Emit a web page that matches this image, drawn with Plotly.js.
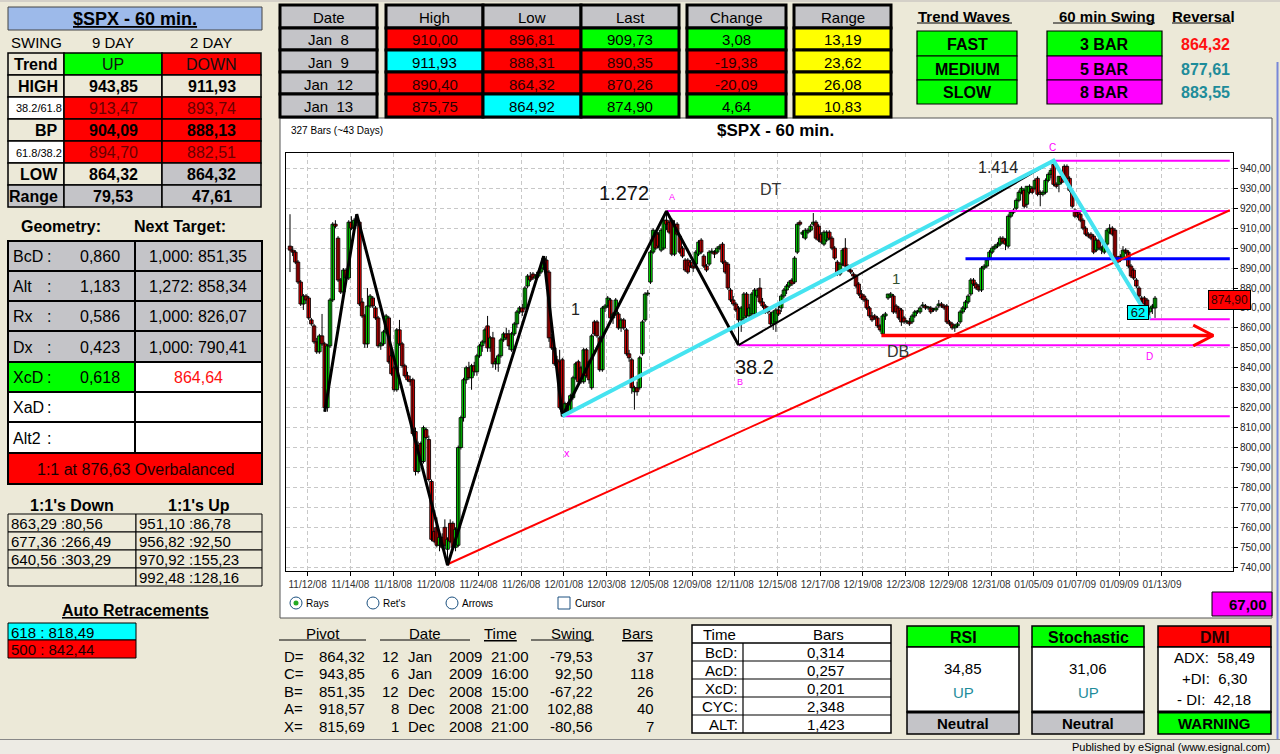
<!DOCTYPE html>
<html><head><meta charset="utf-8">
<script src="https://cdn.plot.ly/plotly-3.0.1.min.js"></script>
<style>html,body{margin:0;padding:0;background:#ECE9D8;overflow:hidden}#chart{width:1280px;height:754px}</style>
</head><body><div id="chart"></div>
<script>
// ---------------- price data (60-min bars, $SPX) ----------------
const open = [
901,899,898,893,883,872,876,875,864,861,853,848,856,852,820,851,874,912,905,884,878,889,885,913,910,914,
913,873,866,852,871,875,870,865,851,852,858,865,846,840,829,859,852,841,836,834,834,808,788,802,793,809,804,783,758,760,751,755,760,749,762,762,750,
751,800,815,834,840,835,841,838,846,851,853,861,850,855,842,842,846,854,857,857,849,857,862,868,870,870,881,886,887,885,886,888,890,894,888,855,850,844,843,844,
818,822,818,825,835,843,840,833,849,843, 830,863,863,855,839,870,871,874,865,867, 867,860,864,859,847,844,828,830,830,847, 864,877,883,898,908,907,899,900,914,913, 914,897,912,906,900,894,894,893,891,892, 897,904,896,891,892,898,898,898,900,902, 893,892,879,874,872,870,
864,865,877,866,867,867,876,880,873,871, 870,867,862,863,869,870,876,879,881,884, 883,898,913,907,905,908,909,912,913,911, 907,902,904,908,905,900,893,887,892,900, 891,889,887,886,882,877,876,874,870,866, 866,865,861,857,866,875,876,876,871,870, 869,865,863,863,863,866,868,868,871,871, 870,870,869,869,871,872,871,
871,863,862,860,861,863,868,870,873,877, 884,882,881,879,890,891,895,898,900,901, 902,905,904,901,916,918,920,924,928,929, 922,928,930,930,935,928,927,928,934,937, 942,932,932,936,941,941,935,928,919,918, 917,914,910,907,907,906,899,904,899,898, 902,908,910,909,895,896,895,899,898,891, 889,884,880,875,875,874,868,870,870];
const high = [
917,901,899,894,884,877,877,876,865,862,855,857,867,853,852,875,913,914,906,885,890,890,914,916,915,917,
914,875,867,880,877,876,871,866,853,859,867,866,848,841,860,864,853,842,838,836,835,810,803,803,811,810,806,784,760,765,756,757,764,755,764,763,760,
801,816,835,841,843,842,843,847,852,854,860,866,856,858,845,847,855,858,860,859,858,863,869,871,872,881,887,888,888,887,889,891,896,896,889,857,851,846,849,845,
823,823,827,836,843,844,841,850,850,844, 857,864,864,856,871,872,876,875,868,875, 868,865,865,860,849,845,831,833,846,864, 878,879,899,910,909,908,910,915,918.57,914, 915,914,913,907,901,895,895,894,893,899, 904,905,897,892,899,900,899,901,902,903, 894,893,880,876,873,871,
871,878,878,872,878,880,880,885,875,872, 871,868,869,870,872,877,880,882,884,885, 896,913,914,909,910,910,912,917.6,914,912, 908,909,909,909,906,901,894,893,900,905, 892,890,888,887,883,879,877,875,871,868, 867,866,862,867,868,877,878,877,872,871, 870,866,864,865,867,869,869,871,873,872, 871,871,870,871,874,873,872,
872,864,863,862,863,869,871,874,877,885, 885,883,882,891,892,895,899,901,902,903, 906,906,905,917,919,920,925,929,931,930, 931,932,931,935,936,929,929,935,938,940, 943.85,933,936,937,942,942,936,929,920,919, 918,915,911,908,908,907,905,905,901,903, 910,912,911,910,896,897,901,900,899,892, 890,885,881,876,876,875,870,872,876];
const low = [
888,896,892,882,871,869,872,864,861,852,847,847,851,818,818,850,873,910,883,877,877,884,884,909,908,911,
871,865,850,850,870,870,864,850,849,851,857,842,836,828,828,851,840,835,833,831,806,786,787,792,792,804,783,753,752,750,748,749,749,741,752,749,748,
750,799,813,832,834,829,836,836,845,848,852,848,848,840,839,838,845,853,854,849,848,856,860,867,866,869,880,883,884,884,885,887,889,887,853,849,841,841,819,815.69,
816,817,817,824,834,832,832,832,835,832, 829,856,855,838,838,868,870,864,862,866, 859,858,859,846,843,827,819,826,829,846, 863,876,882,897,899,900,898,899,909,907, 896,896,906,897,895,888,887,890,888,890, 896,897,890,888,891,897,895,897,899,892, 887,879,873,871,868,851.35,
858,862,865,864,866,866,875,872,870,867, 867,861,859,858,866,868,875,877,880,881, 882,897,911,905,904,907,908,911,904,903, 902,901,903,904,899,894,886,886,891,890, 888,887,885,880,876,874,873,869,865,863, 864,860,858,856.7,864,874,875,867,867,864, 861,862,862,861,862,865,867,867,870,869, 869,867,868,868,870,870,869,
862,861,859,858,860,862,867,869,872,876, 881,879,878,878,889,890,894,897,899,900, 901,902,899,900,915,917,919,923,927,920, 920,927,927,929,926,921,926,927,933,935, 931,930,928,932,933,934,928,920,915,915, 913,909,906,905,904,897,898,899,897,897, 901,907,906,893,892,893,894,897,890,885, 884,880,875,872,871,865,864.32,867,865];
const close = [
899,898,893,883,872,876,874,865,862,853,848,856,852,820,851,874,912,911,884,878,889,885,913,910,914,913,
872,866,852,871,876,871,865,851,852,858,866,843,837,829,859,852,841,836,834,833,807,788,801,793,810,805,784,754,753,751,755,750,751,754,753,750,759,
800,815,834,840,835,841,838,846,851,853,859,850,855,842,843,846,854,857,855,851,857,862,868,870,868,880,886,884,885,886,888,890,895,888,855,850,842,842,820,818,
822,818,826,835,842,833,833,849,836,834, 856,857,856,839,870,871,875,865,867,874, 860,864,860,847,845,830,830,828,845,863, 877,877,898,909,900,901,909,914,912,908, 897,912,907,898,896,889,888,891,890,898, 903,898,891,889,898,898,897,900,901,893, 888,880,874,872,869,864,
870,877,866,870,877,879,879,873,871,868, 868,862,868,869,867,876,879,881,883,882, 895,912,912,908,909,909,911,913,905,904, 903,908,908,905,900,895,887,892,899,891, 889,888,886,881,877,875,874,870,866,864, 865,861,859,866,867,877,877,868,868,865, 863,863,863,862,866,868,868,870,871,870, 870,868,869,870,872,871,870,
863,862,860,861,862,868,870,873,876,884, 882,880,879,890,891,894,898,900,901,902, 905,903,902,916,918,919,924,928,930,921, 931,931,928,934,927,927,928,934,937,939, 932,931,936,933,934,935,929,921,916,916, 914,910,907,906,905,898,904,900,900,902, 909,910,907,894,893,894,899,898,891,886, 885,881,876,873,872,869,870,871,874.9];

const tickLabels = ['11/12/08','11/14/08','11/18/08','11/20/08','11/24/08','11/26/08','12/01/08','12/03/08','12/05/08','12/09/08','12/11/08','12/15/08','12/17/08','12/19/08','12/23/08','12/29/08','12/31/08','01/05/09','01/07/09','01/09/09','01/13/09'];

// pattern pivots (bar number, price)
const zigzagBar = [13, 25, 59, 95, 102, 141, 168];
const zigzagPrice = [818, 917, 741, 896, 815.69, 918.57, 851.35];
const bcBar = [168, 286];
const bcPrice = [851.35, 943.85];
const xcdBar = [102, 286, 322];
const xcdPrice = [815.69, 943.85, 864.32];
const trendBar = [59, 352];
const trendPrice = [741.5, 919];
const levelStart = [141, 168, 102, 286, 322];
const levelPrice = [918.57, 851.35, 815.69, 943.85, 864.32];
const bpLevel = 894.70, bpStart = 253;
const arrowStart = 221.5, arrowEnd = 345.8, arrowPrice = 856.2;

// text tables
const swingRows = ['Trend','HIGH','38.2/61.8','BP','61.8/38.2','LOW','Range'];
const swing9 = ['UP','943,85','913,47','904,09','894,70','864,32','79,53'];
const swing2 = ['DOWN','911,93','893,74','888,13','882,51','864,32','47,61'];
const geoLabels = ['BcD','Alt','Rx','Dx','XcD','XaD','Alt2'];
const geoValues = ['0,860','1,183','0,586','0,423','0,618','',''];
const geoTargets = ['1,000: 851,35','1,272: 858,34','1,000: 826,07','1,000: 790,41','864,64','',''];
const onesDown = ['863,29 :80,56','677,36 :266,49','640,56 :303,29',''];
const onesUp = ['951,10 :86,78','956,82 :92,50','970,92 :155,23','992,48 :128,16'];
const retrace = ['618 : 818,49','500 : 842,44'];
const dayDates = ['Jan  8','Jan  9','Jan  12','Jan  13'];
const dayHigh = ['910,00','911,93','890,40','875,75'];
const dayLow = ['896,81','888,31','864,32','864,92'];
const dayLast = ['909,73','890,35','870,26','874,90'];
const dayChange = ['3,08','-19,38','-20,09','4,64'];
const dayRange = ['13,19','23,62','26,08','10,83'];
const trendWaves = ['FAST','MEDIUM','SLOW'];
const swingBars = ['3 BAR','5 BAR','8 BAR'];
const reversal = ['864,32','877,61','883,55'];
const pivotNames = ['D=','C=','B=','A=','X='];
const pivotPrices = ['864,32','943,85','851,35','918,57','815,69'];
const pivotDay = ['12','6','12','8','1'];
const pivotMonth = ['Jan','Jan','Dec','Dec','Dec'];
const pivotYear = ['2009','2009','2008','2008','2008'];
const pivotTime = ['21:00','16:00','15:00','21:00','21:00'];
const pivotSwing = ['-79,53','92,50','-67,22','102,88','-80,56'];
const pivotBars = ['37','118','26','40','7'];
const timeLabels = ['BcD:','AcD:','XcD:','CYC:','ALT:'];
const timeValues = ['0,314','0,257','0,201','2,348','1,423'];

// ---------------- styling helpers ----------------
const F = '"Liberation Sans", Arial, sans-serif';
const N = '"Liberation Sans Narrow", "Arial Narrow", "Liberation Sans", Arial, sans-serif';
const BEIGE='#ECE9D8', GRAY='#C4C4C8', RED='#FF0000', GREEN='#00FF00', CYAN='#00FFFF', YELLOW='#FFFF00', MAG='#FF00FF', WHITE='#FFFFFF';
const W=1280, H=754;
const shapes=[], ann=[];
const px=x=>x/W, py=y=>1-y/H;
function rect(x0,y0,x1,y1,fill,lc,lw,layer){
  shapes.push({type:'rect',xref:'paper',yref:'paper',x0:px(x0),x1:px(x1),y0:py(y1),y1:py(y0),
    fillcolor:fill||'rgba(0,0,0,0)',line:{color:lc||'rgba(0,0,0,0)',width:lc?(lw||1):0},layer:layer||'above'});
}
function circ(cx,cy,r,fill,lc){
  shapes.push({type:'circle',xref:'paper',yref:'paper',x0:px(cx-r),x1:px(cx+r),y0:py(cy+r),y1:py(cy-r),
    fillcolor:fill,line:{color:lc||'rgba(0,0,0,0)',width:lc?1:0}});
}
function seg(x0,y0,x1,y1,c,w){
  shapes.push({type:'line',xref:'paper',yref:'paper',x0:px(x0),x1:px(x1),y0:py(y0),y1:py(y1),line:{color:c,width:w}});
}
function txt(x,y,t,o){
  o=o||{};
  const a={xref:'paper',yref:'paper',x:px(x),y:py(y),text:t,showarrow:false,xanchor:o.a||'center',yanchor:'middle',
    font:{family:o.f||N,size:o.s||15,color:o.c||'#000'},borderpad:o.bp||0};
  if(o.bg){a.bgcolor=o.bg;} if(o.bc){a.bordercolor=o.bc;a.borderwidth=o.bw||1;}
  ann.push(a);
}
const B=s=>'<b>'+s+'</b>';

// ---------------- left panel ----------------
rect(8,7,262,30,'#9DBAEA','#444',1);
txt(135,19,'<b><u>$SPX - 60 min.</u></b>',{s:18,f:F});
txt(10,43,'SWING',{a:'left',s:15});
txt(113,43,'9 DAY',{s:15}); txt(211,43,'2 DAY',{s:15});
const swY=[53,75,97,119,141,163,185,207];
const swLabFill=[BEIGE,BEIGE,WHITE,BEIGE,WHITE,BEIGE,GRAY];
const sw9Fill=[GREEN,BEIGE,RED,RED,RED,BEIGE,GRAY];
const sw2Fill=[RED,BEIGE,RED,RED,RED,GRAY,GRAY];
for(let r=0;r<swingRows.length;r++){
  const y0=swY[r], y1=swY[r+1], ym=(y0+y1)/2+0.5;
  rect(8,y0,64,y1,swLabFill[r],'#000',1.5);
  rect(64,y0,162,y1,sw9Fill[r],'#000',1.5);
  rect(162,y0,261,y1,sw2Fill[r],'#000',1.5);
  const small=(r===2||r===4);
  if(small) txt(63,ym,swingRows[r],{a:'right',s:11}); else txt(59,ym,B(swingRows[r]),{a:'right',s:16});
  const bold=(r===1||r===3||r===5||r===6);
  const c=small?'#6A0000':(r===0?'#111':'#000');
  txt(113,ym,bold?B(swing9[r]):swing9[r],{s:16,c:c});
  txt(211.5,ym,bold?B(swing2[r]):swing2[r],{s:16,c:c});
}
txt(61,226,B('Geometry:'),{s:16});
txt(180,226,B('Next Target:'),{s:16});
const gY=[241,271,301,331,362,392,422,453,484];
const gLabFill=[GRAY,GRAY,GRAY,GRAY,GREEN,WHITE,WHITE];
const gTarFill=[GRAY,GRAY,GRAY,GRAY,WHITE,WHITE,WHITE];
for(let r=0;r<geoLabels.length;r++){
  const y0=gY[r], y1=gY[r+1], ym=(y0+y1)/2+0.5;
  rect(8,y0,135,y1,gLabFill[r],'#000',2);
  rect(135,y0,262,y1,gTarFill[r],'#000',2);
  txt(12,ym,geoLabels[r],{a:'left',s:16});
  txt(49,ym,':',{a:'center',s:16});
  if(geoValues[r]) txt(121,ym,geoValues[r],{a:'right',s:16});
  if(geoTargets[r]) txt(198,ym,geoTargets[r],{s:16,c:r===4?'#FF1010':'#000'});
}
rect(8,453,262,484,RED,'#000',2);
txt(135,469,'1:1 at 876,63 Overbalanced',{s:16,c:'#1a0000'});
txt(72,505,B("1:1's Down"),{s:16});
txt(199,505,B("1:1's Up"),{s:16});
const oY=[514,532,550,568,586];
for(let r=0;r<onesUp.length;r++){
  const y0=oY[r], y1=oY[r+1], ym=(y0+y1)/2+0.5;
  rect(8,y0,136,y1,BEIGE,'#000',1);
  rect(136,y0,262,y1,BEIGE,'#000',1);
  if(onesDown[r]) txt(10,ym,onesDown[r],{a:'left',s:15});
  txt(138,ym,onesUp[r],{a:'left',s:15});
}
txt(135,610,'<b><u>Auto Retracements</u></b>',{s:16});
rect(8,623,136,640,CYAN,'#000',1); txt(10,632,retrace[0],{a:'left',s:15});
rect(8,640,136,658,RED,'#000',1); txt(10,649,retrace[1],{a:'left',s:15,c:'#1a0000'});

// ---------------- top tables ----------------
const tY=[5,28,50,72,94,117];
function column(x0,x1,head,vals,fills){
  rect(x0,tY[0],x1,tY[1],GRAY,'#000',3);
  txt((x0+x1)/2,(tY[0]+tY[1])/2+1,head,{s:15});
  for(let r=0;r<vals.length;r++){
    rect(x0,tY[r+1],x1,tY[r+2],fills[r],'#000',3);
    txt((x0+x1)/2,(tY[r+1]+tY[r+2])/2+1,vals[r],{s:15,c:fills[r]===RED?'#2a0000':'#000'});
  }
}
column(280,377,'Date',dayDates,[GRAY,GRAY,GRAY,GRAY]);
column(386,483,'High',dayHigh,[RED,CYAN,RED,RED]);
column(483,581,'Low',dayLow,[RED,RED,RED,CYAN]);
column(581,679,'Last',dayLast,[GREEN,RED,RED,GREEN]);
column(687,786,'Change',dayChange,[GREEN,RED,RED,GREEN]);
column(794,891,'Range',dayRange,[YELLOW,YELLOW,YELLOW,YELLOW]);

txt(917,16,B('Trend Waves'),{a:'left',s:15}); seg(917,23,1012,23,'#000',1.2);
txt(1107,16,B('60 min Swing'),{s:15}); seg(1053,23,1155,23,'#000',1.2);
txt(1203,16,B('Reversal'),{s:15}); seg(1172,23,1231,23,'#000',1.2);
const twY=[31,56,80,104];
const swingFill=[GREEN,MAG,MAG];
const revColor=['#FF1010','#1E8C9A','#1E8C9A'];
for(let r=0;r<3;r++){
  const y0=twY[r], y1=twY[r+1], ym=(y0+y1)/2+1;
  rect(917,y0,1017,y1,GREEN,'#000',1.2);
  txt(967,ym,B(trendWaves[r]),{s:16});
  rect(1047,y0,1162,y1,swingFill[r],'#000',1.2);
  txt(1104,ym,B(swingBars[r]),{s:16});
  txt(1231,ym,B(reversal[r]),{a:'right',s:16,c:revColor[r]});
}

// ---------------- chart frame & page furniture ----------------
rect(0,0,1280,2,'#D4D0C8');
rect(280,118,1272,618,WHITE,'#555',1,'below');
seg(1277.5,62,1277.5,740,'#7888D8',2);
txt(775,130,B('$SPX - 60 min.'),{s:17,f:F});
txt(290,131,'327 Bars (~43 Days)',{a:'left',s:10,f:F});
txt(1052,147,'C',{s:10,f:F,c:MAG});
txt(1229,300,'874,90',{s:12,f:F,c:'#300',bg:RED,bc:'#000',bw:1,bp:2});
// radio row
circ(296,603,6,WHITE,'#1C5180'); circ(296,603,2.5,'#22AA22');
txt(305,603,"Rays",{a:'left',s:10,f:F});
circ(373,603,6,WHITE,'#1C5180'); txt(382,603,"Ret's",{a:'left',s:10,f:F});
circ(452,603,6,WHITE,'#1C5180'); txt(461,603,"Arrows",{a:'left',s:10,f:F});
rect(558,597,570,609,WHITE,'#1C5180',1); txt(574,603,"Cursor",{a:'left',s:10,f:F});
rect(1212,592,1272,616,MAG,'#000',1); txt(1268,604,B('67,00'),{a:'right',s:15});

// ---------------- bottom pivot table ----------------
const hdrY=633;
txt(323,hdrY,'Pivot',{s:15}); seg(279,640,366,640,'#000',1);
txt(425,hdrY,'Date',{s:15}); seg(380,640,470,640,'#000',1);
txt(500,hdrY,'<u>Time</u>',{s:15});
txt(593,hdrY,'Swing',{a:'right',s:15}); seg(531,640,594,640,'#000',1);
txt(654,hdrY,'<u>Bars</u>',{a:'right',s:15});
const pY=[656,673.5,691,708.5,726];
for(let r=0;r<pivotNames.length;r++){
  const y=pY[r];
  txt(283,y,pivotNames[r],{a:'left',s:15});
  txt(366,y,pivotPrices[r],{a:'right',s:15});
  txt(400,y,pivotDay[r],{a:'right',s:15});
  txt(407,y,pivotMonth[r],{a:'left',s:15});
  txt(448,y,pivotYear[r],{a:'left',s:15});
  txt(510,y,pivotTime[r],{s:15});
  txt(594,y,pivotSwing[r],{a:'right',s:15});
  txt(655,y,pivotBars[r],{a:'right',s:15});
}
rect(692,625,891,733,WHITE,'#000',1.5);
seg(692,643,891,643,'#000',1.5);
const tRow=[643,661,679,697,715,733];
for(let r=1;r<5;r++) seg(692,tRow[r],891,tRow[r],'#000',1.2);
seg(743,643,743,733,'#000',1.2);
txt(702,634,'Time',{a:'left',s:15});
txt(828,634,'Bars',{s:15});
for(let r=0;r<timeLabels.length;r++){
  const ym=(tRow[r]+tRow[r+1])/2+0.5;
  txt(739,ym,timeLabels[r],{a:'right',s:15});
  txt(826,ym,timeValues[r],{s:15});
}
// indicator boxes
function indBox(x0,x1,head,headFill,footer,footFill){
  rect(x0,626,x1,647,headFill,'#000',1.5);
  rect(x0,647,x1,712,WHITE,'#000',1.5);
  rect(x0,712,x1,734,footFill,'#000',1.5);
  seg(x0,712,x1,712,'#000',3);
  txt((x0+x1)/2,637,B(head),{s:16,c:headFill===RED?'#200':'#000'});
  txt((x0+x1)/2,723.5,B(footer),{s:15});
}
indBox(907,1019,'RSI',GREEN,'Neutral',GRAY);
txt(963,668,'34,85',{s:15}); txt(963,692,'UP',{s:15,c:'#1E8C9A'});
indBox(1032,1144,'Stochastic',GREEN,'Neutral',GRAY);
txt(1088,668,'31,06',{s:15}); txt(1088,692,'UP',{s:15,c:'#1E8C9A'});
indBox(1158,1271,'DMI',RED,'WARNING',GREEN);
txt(1214,657,'ADX:  58,49',{s:15}); txt(1214,678,'+DI:  6,30',{s:15}); txt(1214,699,'- DI:  42,18',{s:15});
rect(0,740,1280,754,'#EDEBE4'); seg(0,739.5,1280,739.5,'#888',1);
txt(1271,747,'Published by eSignal (www.esignal.com)',{a:'right',s:11,f:F});

// ---------------- chart labels (data coordinates) ----------------
function dl(i,p,t,s,c){ann.push({xref:'x',yref:'y',x:i,y:p,text:t,showarrow:false,xanchor:'center',yanchor:'middle',font:{family:F,size:s,color:c}});}
dl(125,927.6,'1.272',20,'#111');
dl(143,925.5,'A',9,MAG);
dl(180,929.6,'DT',16,'#333');
dl(107,869,'1',16,'#222');
dl(174,840.2,'38.2',20,'#111');
dl(168.5,832.7,'B',9,MAG);
dl(103.6,797.1,'x',11,MAG);
dl(227,884.9,'1',15,'#2F4F2F');
dl(227.8,848.4,'DB',16,'#333');
dl(265,940.3,'1.414',16,'#222');
dl(321.9,845.9,'D',10,MAG);
ann.push({xref:'x',yref:'y',x:317.5,y:867.6,text:'62',showarrow:false,font:{family:F,size:13,color:'#111'},bgcolor:CYAN,bordercolor:'#000',borderwidth:1,width:20,height:13,borderpad:0});

// ---------------- traces ----------------
const idx = open.map((_,i)=>i);
const wickX=[], wickY=[];
idx.forEach(i=>{wickX.push(i,i,null); wickY.push(low[i],high[i],null);});
const bodyBase = open.map((o,i)=>Math.min(o,close[i]));
const bodyLen = open.map((o,i)=>Math.max(Math.abs(close[i]-o),0.5));
const bodyColor = open.map((o,i)=>close[i]>=o?'#00FF00':'#FF0000');
const traces = [];
traces.push({type:'scatter',mode:'lines',x:wickX,y:wickY,line:{color:'#000',width:1},hoverinfo:'skip',showlegend:false,connectgaps:false});
traces.push({type:'bar',x:idx,y:bodyLen,base:bodyBase,width:1.3,
  marker:{color:bodyColor,line:{color:'#000',width:0.9}},hoverinfo:'skip',showlegend:false});
const L=(x,y,c,w)=>traces.push({type:'scatter',mode:'lines',x:x,y:y,line:{color:c,width:w},hoverinfo:'skip',showlegend:false});
const rightEnd=352;
for(let k=0;k<levelPrice.length;k++) L([levelStart[k],rightEnd],[levelPrice[k],levelPrice[k]],MAG,2);
L([bpStart,rightEnd],[bpLevel,bpLevel],'#0000FF',3);
L(trendBar,trendPrice,'#FF0000',2);
L([arrowStart,arrowEnd],[arrowPrice,arrowPrice],'#FF0000',3.5);
L([arrowEnd-7.5,arrowEnd,arrowEnd-7.5],[arrowPrice+5.2,arrowPrice,arrowPrice-5.2],'#FF0000',3);
L(zigzagBar,zigzagPrice,'#000',3);
L(bcBar,bcPrice,'#000',2);
L(xcdBar,xcdPrice,'#45E3F0',4);

const layout = {
  width:W,height:H,margin:{l:0,r:0,t:0,b:0},paper_bgcolor:BEIGE,plot_bgcolor:WHITE,
  showlegend:false,separators:',.',barmode:'overlay',hovermode:false,
  xaxis:{domain:[286/W,1233/W],range:[-1.5,353.2],
    tickmode:'array',tickvals:tickLabels.map((_,k)=>6.6+16*k),ticktext:tickLabels,
    ticks:'outside',ticklen:4,tickcolor:'#000',showgrid:true,gridcolor:'#C8C8C8',griddash:'4px,3px',
    showline:true,mirror:true,linecolor:'#000',linewidth:1,zeroline:false,
    tickfont:{family:F,size:10,color:'#333'}},
  yaxis:{domain:[1-571/H,1-153/H],range:[738.1,947.7],side:'right',tickmode:'linear',tick0:740,dtick:10,
    tickformat:'.2f',ticks:'outside',ticklen:4,tickcolor:'#000',showgrid:true,gridcolor:'#C8C8C8',griddash:'4px,3px',
    showline:true,mirror:true,linecolor:'#000',linewidth:1,zeroline:false,
    tickfont:{family:F,size:10,color:'#222'}},
  shapes:shapes,annotations:ann
};
Plotly.newPlot('chart',traces,layout,{staticPlot:true,displayModeBar:false});
</script></body></html>
